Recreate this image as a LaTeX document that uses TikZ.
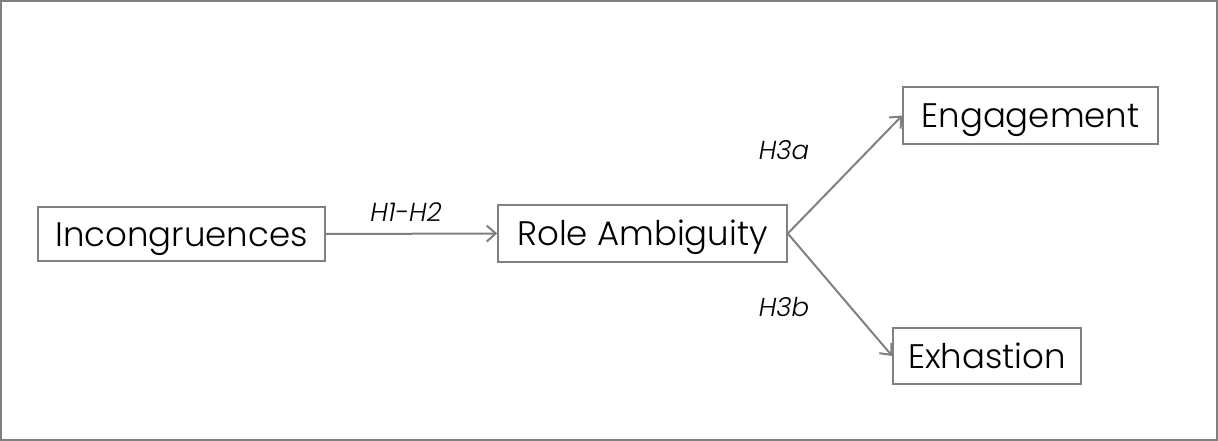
\documentclass[tikz,border=0pt]{standalone}
\usepackage{fontspec}
\setmainfont{Poppins}[UprightFont=* Light, ItalicFont=* Light Italic]
\usetikzlibrary{arrows.meta}
\definecolor{linegray}{HTML}{808080}
\tikzset{
  box/.style={draw=linegray, line width=1.6pt, inner sep=0pt, font=\fontsize{34}{40}\selectfont, text=black, text height=24pt, text depth=0pt},
  conn/.style={draw=linegray, line width=2pt, -{Straight Barb[length=9pt,width=16pt,line width=2pt]}},
  hlabel/.style={font=\fontsize{26}{30}\selectfont\itshape, text=black, inner sep=0pt, text height=18pt, text depth=0pt}
}
\begin{document}
\begin{tikzpicture}[x=1pt,y=-1pt]
\useasboundingbox (0,0) rectangle (1218,441);
\draw[linegray, line width=2pt] (1,1) rectangle (1217,440);
\node[box, minimum width=287pt, minimum height=54pt] (inc) at (181.5,234) {Incongruences};
\node[box, minimum width=289pt, minimum height=57pt] (role) at (642.5,233.5) {Role Ambiguity};
\node[box, minimum width=255pt, minimum height=57pt] (eng) at (1030.5,115.5) {Engagement};
\node[box, minimum width=188pt, minimum height=56pt] (exh) at (987,356) {Exhastion};
\draw[conn] (inc.east) -- (role.west);
\draw[conn] (role.east) -- (eng.west);
\draw[conn] (role.east) -- (exh.west);
\node[hlabel] (h12) at (406,212) {H1-H2};
\node[hlabel] (h3a) at (784,151) {H3a};
\node[hlabel] (h3b) at (784,307) {H3b};
\end{tikzpicture}
\end{document}
